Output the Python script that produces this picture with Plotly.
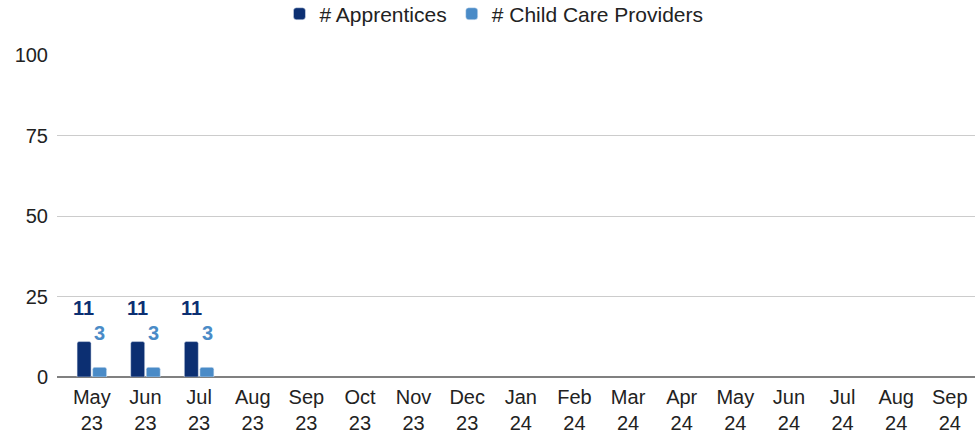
import plotly.graph_objects as go

MONTHS = ["May 23", "Jun 23", "Jul 23", "Aug 23", "Sep 23", "Oct 23", "Nov 23", "Dec 23",
          "Jan 24", "Feb 24", "Mar 24", "Apr 24", "May 24", "Jun 24", "Jul 24", "Aug 24", "Sep 24"]
APPRENTICES = [11, 11, 11, None, None, None, None, None, None, None, None, None, None, None, None, None, None]
PROVIDERS = [3, 3, 3, None, None, None, None, None, None, None, None, None, None, None, None, None, None]
Y_TICKS = [0, 25, 50, 75, 100]

NAVY = "#0c2f72"
LIGHT = "#4a8bc7"
FONT = "Liberation Sans, Arial, sans-serif"

fig = go.Figure()
fig.add_bar(x=MONTHS, y=APPRENTICES, name="# Apprentices", marker_color=NAVY,
            marker_cornerradius=2)
fig.add_bar(x=MONTHS, y=PROVIDERS, name="# Child Care Providers", marker_color=LIGHT,
            marker_cornerradius=2)

annotations = []
for series, color, dx in [(APPRENTICES, NAVY, -8), (PROVIDERS, LIGHT, 8)]:
    for m, v in zip(MONTHS, series):
        if v is None:
            continue
        annotations.append(dict(
            x=m, y=v, text=f"<b>{v}</b>", showarrow=False, xshift=dx, yshift=34,
            yanchor="middle", font=dict(color=color, size=20, family=FONT),
        ))

fig.update_layout(
    width=975, height=434,
    margin=dict(l=57, r=0, t=55, b=57, autoexpand=False),
    paper_bgcolor="white", plot_bgcolor="white",
    font=dict(family=FONT, size=20, color="#222"),
    barmode="group", bargap=0.42, bargroupgap=0.1,
    showlegend=True,
    legend=dict(orientation="h", x=0.476, xanchor="center", y=1.127, yanchor="middle",
                font=dict(size=21, color="#222"), itemwidth=30, traceorder="normal"),
    annotations=annotations,
    xaxis=dict(
        type="category", range=[-0.65, 16.47], automargin=False,
        tickvals=MONTHS, ticktext=[m.replace(" ", "<br>") for m in MONTHS],
        showgrid=False, showline=False, ticks="", tickfont=dict(size=20, color="#222"),
        ticklabelstandoff=6,
    ),
    yaxis=dict(
        range=[0, 100], tickvals=Y_TICKS, showgrid=True, gridcolor="#cccccc", gridwidth=1,
        zeroline=True, zerolinecolor="#808080", zerolinewidth=2, automargin=False,
        ticks="", tickfont=dict(size=20, color="#222"), ticklabelstandoff=8,
    ),
)

fig.write_html("out.html", config={"displayModeBar": False},
               post_script="document.body.style.margin='0';")
